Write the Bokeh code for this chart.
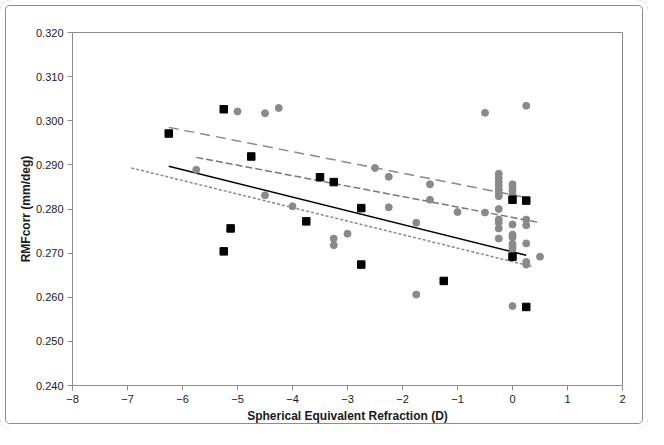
from bokeh.plotting import figure
from bokeh.models import Range1d, FixedTicker, PrintfTickFormatter
from bokeh.embed import file_html
from bokeh.resources import INLINE

# Black squares
sq_x = [-6.25, -5.25, -4.75, -3.5, -3.25, -3.75, -5.125, -5.25, -2.75, -2.75, -1.25, 0.0, 0.25, 0.0, 0.25]
sq_y = [0.2971, 0.3026, 0.2919, 0.2872, 0.2861, 0.2772, 0.2756, 0.2704, 0.2802, 0.2674, 0.2637, 0.2821, 0.2819, 0.2692, 0.2578]

# Gray circles
ci_x = [-5.75, -5.0, -4.5, -4.25, -4.5, -4.0, -3.25, -3.25, -3.0, -2.5, -2.25, -2.25, -1.75, -1.75,
        -1.5, -1.5, -1.0, -0.5, -0.5, 0.25,
        -0.25, -0.25, -0.25, -0.25, -0.25, -0.25, -0.25, -0.25, -0.25, -0.25, -0.25, -0.25,
        0.0, 0.0, 0.0, 0.0, 0.0, 0.0, 0.0, 0.0, 0.0, 0.0, 0.0,
        0.25, 0.25, 0.25, 0.25, 0.25,
        0.5]
ci_y = [0.2889, 0.3021, 0.3017, 0.3029, 0.2831, 0.2806, 0.2733, 0.2718, 0.2744, 0.2893, 0.2873, 0.2804, 0.2769, 0.2606,
        0.2856, 0.2821, 0.2793, 0.3018, 0.2792, 0.3034,
        0.2880, 0.2871, 0.2862, 0.2853, 0.2844, 0.2835, 0.2829, 0.2800, 0.2776, 0.2769, 0.2756, 0.2733,
        0.2856, 0.2850, 0.2841, 0.2833, 0.2765, 0.2742, 0.2736, 0.2721, 0.2715, 0.2709, 0.2580,
        0.2776, 0.2763, 0.2722, 0.2680, 0.2674,
        0.2692]

# Regression / reference lines
solid_x = [-6.25, 0.25]
solid_y = [0.2897, 0.2695]
upper_x = [-6.25, 0.25]
upper_y = [0.2985, 0.2826]
middle_x = [-5.75, 0.5]
middle_y = [0.2917, 0.2769]
dotted_x = [-6.93, 0.35]
dotted_y = [0.2893, 0.2670]

x_ticks = [-8, -7, -6, -5, -4, -3, -2, -1, 0, 1, 2]
y_ticks = [0.240, 0.250, 0.260, 0.270, 0.280, 0.290, 0.300, 0.310, 0.320]

GRAY = "#8a8a8a"
FONT = "Liberation Sans"

p = figure(width=648, height=429, output_backend="svg", toolbar_location=None,
           x_range=Range1d(-8, 2), y_range=Range1d(0.240, 0.320),
           min_border_left=72, min_border_right=26, min_border_top=32, min_border_bottom=44)

p.grid.visible = False
p.outline_line_color = "#8c8c8c"
p.outline_line_width = 1
p.background_fill_color = "white"
p.border_fill_alpha = 0

for ax in (p.xaxis[0], p.yaxis[0]):
    ax.axis_line_color = "#8c8c8c"
    ax.major_tick_line_color = "#8c8c8c"
    ax.major_tick_out = 5
    ax.major_tick_in = 0
    ax.minor_tick_line_color = None
    ax.major_label_text_font = FONT
    ax.major_label_text_font_size = "11px"
    ax.major_label_text_color = "#1a1a1a"
    ax.axis_label_text_font = FONT
    ax.axis_label_text_font_size = "12px"
    ax.axis_label_text_font_style = "bold"
    ax.axis_label_text_color = "#1a1a1a"
    ax.major_label_standoff = 4

p.xaxis.ticker = FixedTicker(ticks=x_ticks)
p.yaxis.ticker = FixedTicker(ticks=y_ticks)
p.yaxis.formatter = PrintfTickFormatter(format="%.3f")
p.xaxis.axis_label = "Spherical Equivalent Refraction (D)"
p.yaxis.axis_label = "RMFcorr (mm/deg)"
p.xaxis.axis_label_standoff = 3
p.yaxis.axis_label_standoff = 0

p.line(upper_x, upper_y, line_color=GRAY, line_width=1.5, line_dash="10 6")
p.line(middle_x, middle_y, line_color="#777777", line_width=1.5, line_dash="7 3")
p.line(dotted_x, dotted_y, line_color=GRAY, line_width=1.5, line_dash="3 2")
p.line(solid_x, solid_y, line_color="black", line_width=1.5)

p.scatter(ci_x, ci_y, marker="circle", size=7, fill_color=GRAY, line_color=GRAY)
p.scatter(sq_x, sq_y, marker="square", size=7.5, fill_color="black", line_color="black")

# outer chart frame drawn behind the transparent canvas border area
p.styles = {
    "background-color": "white",
    "border-radius": "10px",
    "box-shadow": "inset 0 0 0 5px white, inset 0 0 0 6px #8c8c8c",
}

open("out.html", "w").write(file_html(p, INLINE))
